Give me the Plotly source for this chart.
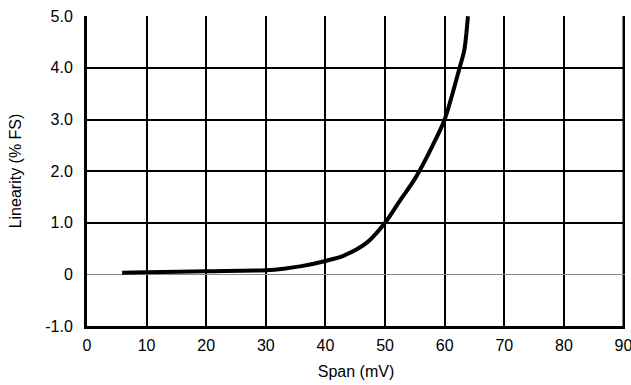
import plotly.graph_objects as go

span_mv = [5.9, 10, 20, 30, 33, 36, 40, 43, 47, 50, 52.5, 55, 58, 60, 62.5, 63.3, 63.9]
linearity = [0.03, 0.04, 0.06, 0.08, 0.11, 0.16, 0.26, 0.36, 0.62, 1.0, 1.43, 1.85, 2.5, 3.0, 4.0, 4.35, 5.0]

x_ticks = [0, 10, 20, 30, 40, 50, 60, 70, 80, 90]
y_ticks = [-1, 0, 1, 2, 3, 4, 5]
y_ticklabels = ["-1.0", "0", "1.0", "2.0", "3.0", "4.0", "5.0"]

font = dict(family="Liberation Sans, Arial, sans-serif", size=16, color="black")

fig = go.Figure()
fig.add_trace(go.Scatter(
    x=span_mv, y=linearity, mode="lines",
    line=dict(color="black", width=4, shape="spline", smoothing=0.8),
    showlegend=False, hoverinfo="skip", cliponaxis=True,
))

# right border of the plot area at x = 90
fig.add_shape(type="line", xref="x", yref="paper", x0=90, x1=90, y0=0, y1=1,
              line=dict(color="black", width=2), layer="below")

fig.update_layout(
    width=631, height=385,
    margin=dict(l=87, r=6, t=16, b=59, autoexpand=False),
    paper_bgcolor="white", plot_bgcolor="white",
    font=font,
    xaxis=dict(
        range=[0, 90.25], tickvals=x_ticks, ticktext=[str(v) for v in x_ticks],
        showgrid=True, gridcolor="black", gridwidth=2,
        zeroline=False, showline=True, linecolor="black", linewidth=3,
        ticks="", ticklabelstandoff=3, ticklabeloverflow="allow", automargin=False,
        title=dict(text="Span (mV)", standoff=13, font=font),
        fixedrange=True,
    ),
    yaxis=dict(
        range=[-1, 5.005], tickvals=y_ticks, ticktext=y_ticklabels,
        showgrid=True, gridcolor="black", gridwidth=2,
        zeroline=True, zerolinecolor="#8a8a8a", zerolinewidth=1,
        showline=True, linecolor="black", linewidth=3,
        ticks="", ticklabelstandoff=8, automargin=False,
        title=dict(text="Linearity (% FS)", standoff=20, font=font),
        fixedrange=True,
    ),
)

fig.write_html("out.html")
